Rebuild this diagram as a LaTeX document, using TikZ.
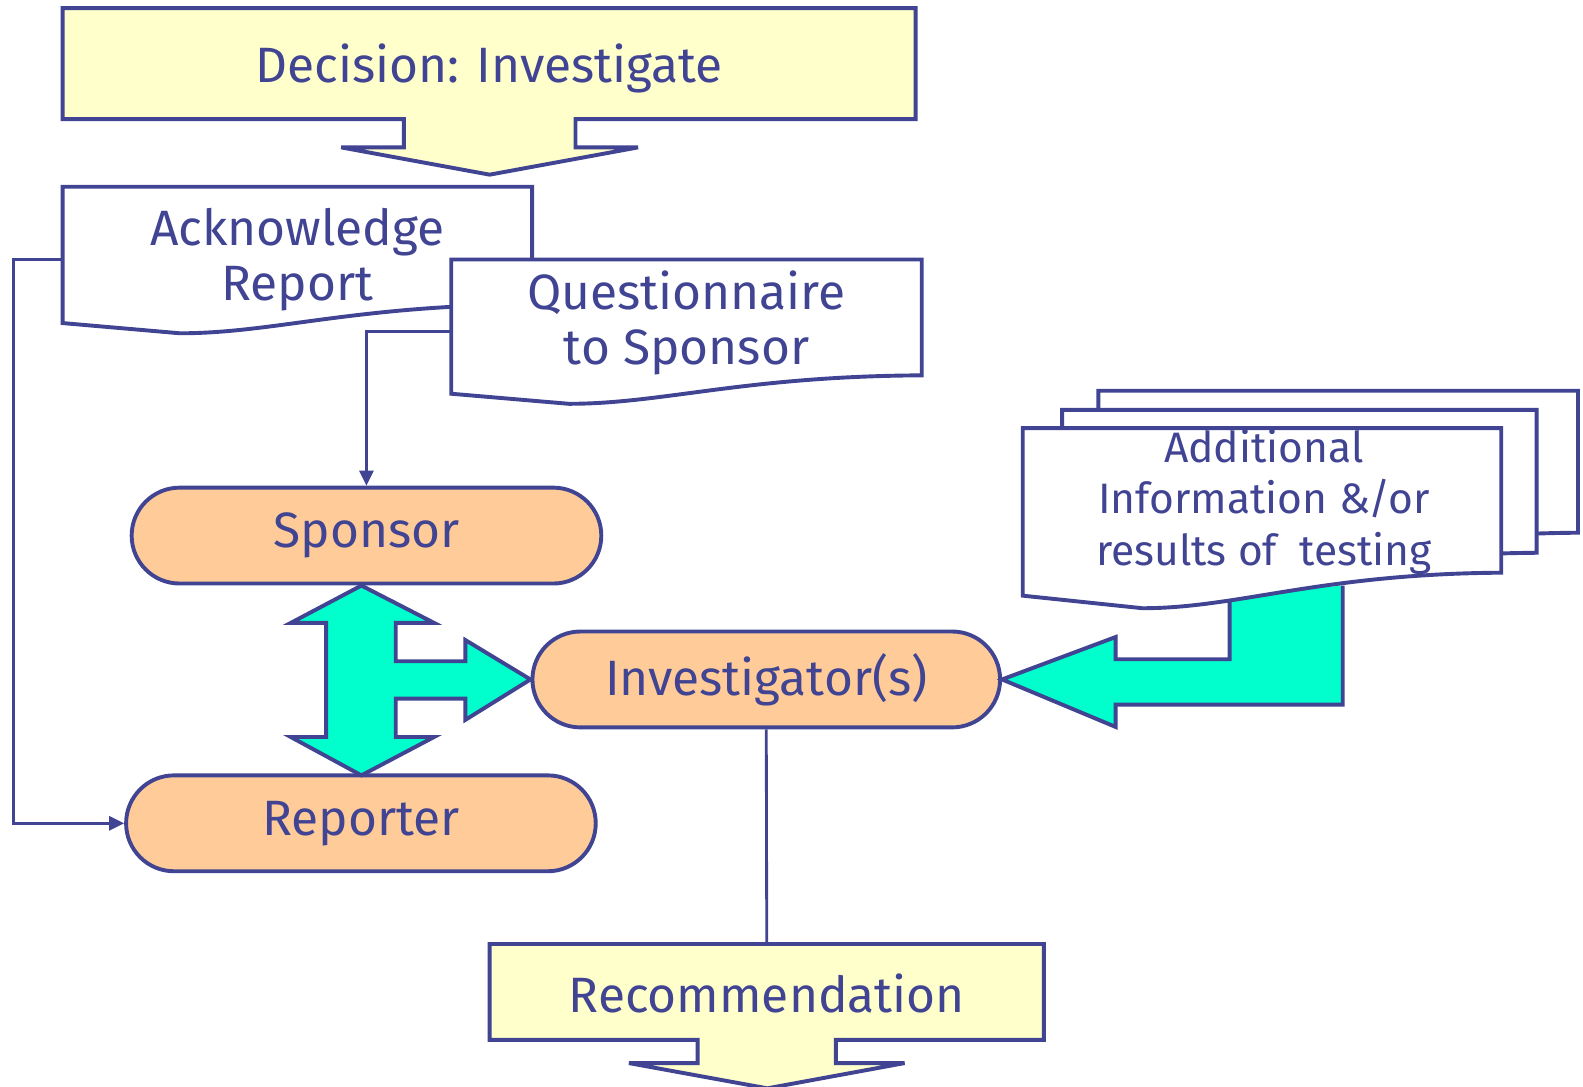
\documentclass[tikz,border=0pt]{standalone}
\usepackage{fontspec}
\setmainfont{Fira Sans}
\usepackage{xcolor}
\usetikzlibrary{arrows.meta,shapes.misc}
\definecolor{inkblue}{HTML}{404492}
\definecolor{cream}{HTML}{FFFFCC}
\definecolor{peach}{HTML}{FFCC99}
\definecolor{aqua}{HTML}{00FFCC}
% document sheet with wavy lower edge: left, top, right, bottom-left
\newcommand{\docshape}[4]{%
  \draw[outline, fill=white] (#1,#2) -- (#3,#2) -- (#3,{#4-0.137*(#4-#2)})
    .. controls ({#1+0.62*(#3-#1)},{#4-0.13*(#4-#2)}) and ({#1+0.45*(#3-#1)},{#4+0.075*(#4-#2)})
    .. ({#1+0.25*(#3-#1)},{#4+0.075*(#4-#2)}) -- (#1,#4) -- cycle;}

\begin{document}
\begin{tikzpicture}[
  x=0.02cm, y=-0.02cm,
  outline/.style={draw=inkblue, line width=2.2pt},
  link/.style={draw=inkblue, line width=1.6pt, -{Triangle[length=3mm,width=2.8mm]}},
  txt/.style={text=inkblue, font=\fontsize{28}{31}\selectfont, align=center},
  smalltxt/.style={text=inkblue, font=\fontsize{24}{29}\selectfont, align=center},
  stadium/.style={rounded rectangle, outline, fill=peach, minimum width=9.54cm, minimum height=1.9cm, txt}
]
\useasboundingbox (0,0) rectangle (1568,1076);

% decision banner
\draw[outline, fill=cream] (62,8) -- (907,8) -- (907,118) -- (570,118) -- (570,146) -- (632,146)
  -- (485,173) -- (338,146) -- (400,146) -- (400,118) -- (62,118) -- cycle;
\node[txt] (dec) at (484.5,68) {Decision: Investigate};

% documents
\docshape{62}{185}{527}{320}
\node[txt, minimum width=9.3cm, minimum height=2.7cm] (ack) at (294.5,257) {Acknowledge\\Report};
\docshape{447}{257}{913}{390}
\node[txt, minimum width=9.32cm, minimum height=2.66cm] (quest) at (680,320) {Questionnaire\\to Sponsor};

% parties
\node[stadium] (spon) at (363,530.5) {Sponsor};
\node[stadium] (rep) at (357.5,815.5) {Reporter};
\node[stadium, minimum width=9.5cm] (inv) at (759,673) {Investigator(s)};

% two-way exchange
\draw[outline, fill=aqua] (358,580) -- (430,617) -- (392,617) -- (392,655) -- (461,655) -- (461,634)
  -- (inv.west) -- (461,713) -- (461,692) -- (392,692) -- (392,730) -- (430,730) -- (358,768)
  -- (288,730) -- (323,730) -- (323,617) -- (288,617) -- cycle;

% additional information feeds the investigators
\docshape{1088}{387}{1563}{550}
\docshape{1052}{406}{1522}{570}
\draw[outline, fill=aqua] (1218,590) -- (1218,653) -- (1105,653) -- (1105,631) -- (inv.east)
  -- (1105,720) -- (1105,698) -- (1330,698) -- (1330,580);
\docshape{1013}{424}{1487}{590}
\node[smalltxt] (info) at (1252,497) {Additional\\Information \&/or\\results of~ testing};

% recommendation banner
\draw[outline, fill=cream] (485,935) -- (1034,935) -- (1034,1030) -- (828,1030) -- (828,1053) -- (896,1053)
  -- (760,1078) -- (623,1053) -- (691,1053) -- (691,1030) -- (485,1030) -- cycle;
\node[txt, minimum width=10.98cm, minimum height=1.9cm] (rec) at (759.5,984) {Recommendation};

% connectors
\draw[link] (ack.west) -- ++(-48,0) |- (rep.west);
\draw[link] (quest.west) ++(0,8) -| (spon.north);
\draw[outline, line width=1.6pt] (inv.south) -- (rec.north);
\end{tikzpicture}
\end{document}
